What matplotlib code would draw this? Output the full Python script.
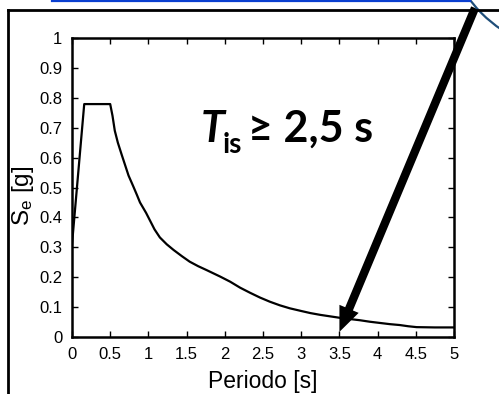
import matplotlib
matplotlib.use("Agg")
import matplotlib.pyplot as plt
from matplotlib.lines import Line2D
from matplotlib.patches import Circle

# spectrum
periodo = [0.0, 0.16, 0.50, 0.53, 0.56, 0.60, 0.65, 0.74, 0.80, 0.85, 0.89, 0.97,
           1.02, 1.08, 1.15, 1.24, 1.33, 1.44, 1.54, 1.65, 1.76, 1.94, 2.07,
           2.20, 2.33, 2.46, 2.59, 2.72, 2.85, 3.00, 3.12, 3.25, 3.38, 3.51,
           3.64, 3.77, 3.90, 4.03, 4.16, 4.29, 4.40, 4.51, 4.75, 5.0]
se = [0.31, 0.779, 0.779, 0.74, 0.69, 0.65, 0.61, 0.54, 0.505, 0.475, 0.45, 0.415,
      0.39, 0.36, 0.333, 0.31, 0.291, 0.27, 0.252, 0.237, 0.224, 0.202, 0.185,
      0.165, 0.148, 0.132, 0.118, 0.106, 0.096, 0.087, 0.080, 0.074, 0.069, 0.064,
      0.060, 0.056, 0.051, 0.047, 0.043, 0.040, 0.036, 0.033, 0.032, 0.032]

xticks = [0, 0.5, 1, 1.5, 2, 2.5, 3, 3.5, 4, 4.5, 5]
xticklabels = ['0', '0.5', '1', '1.5', '2', '2.5', '3', '3.5', '4', '4.5', '5']
yticks = [0, 0.1, 0.2, 0.3, 0.4, 0.5, 0.6, 0.7, 0.8, 0.9, 1]
yticklabels = ['0', '0.1', '0.2', '0.3', '0.4', '0.5', '0.6', '0.7', '0.8', '0.9', '1']

arrow_tip = (3.5, 0.017)

plt.rcParams['font.family'] = ['Liberation Sans', 'DejaVu Sans']
plt.rcParams['mathtext.default'] = 'regular'

W, H = 499, 394
fig = plt.figure(figsize=(W/100, H/100), dpi=100)
ax = fig.add_axes([72/W, 1-337/H, (454-72)/W, (337-38)/H])

ax.plot(periodo, se, color='black', lw=1.6)
ax.set_xlim(0, 5)
ax.set_ylim(0, 1)
ax.set_xticks(xticks)
ax.set_xticklabels(xticklabels)
ax.set_yticks(yticks)
ax.set_yticklabels(yticklabels)
ax.tick_params(direction='in', top=True, right=True, length=4, width=1,
               labelsize=12, pad=7)
for s in ax.spines.values():
    s.set_linewidth(1.8)
ax.set_xlabel('Periodo [s]', fontsize=16.5)
ax.xaxis.set_label_coords(0.5, -(388-337)/299)
ax.xaxis.label.set_va('baseline')
ax.set_ylabel('S$_\\mathregular{e}$ [g]', fontsize=17.5)
ax.yaxis.set_label_coords(-(72-36)/382, (337-196)/299)

# big arrow
ax.annotate('', xy=arrow_tip, xycoords='data',
            xytext=(475, H-8), textcoords='figure pixels',
            arrowprops=dict(arrowstyle='simple,head_length=0.9,head_width=0.75,tail_width=0.3',
                            color='black', lw=0, shrinkA=0, shrinkB=0,
                            mutation_scale=20),
            annotation_clip=False)

# label text
bold = ['Lato', 'DejaVu Sans']
fig.text(201/W, 1-142/H, 'T', fontsize=31, fontweight='bold', fontstyle='italic',
         family=bold, va='baseline', ha='left')
fig.text(223/W, 1-153/H, 'is', fontsize=20, fontweight='bold',
         family=bold, va='baseline', ha='left')
fig.text(248/W, 1-142/H, '\u2265 2,5 s', fontsize=31, fontweight='bold',
         family=bold, va='baseline', ha='left')

# outer frame and decorations
fig.add_artist(Line2D([8/W, 8/W], [0, 1-10/H], color='black', lw=2))
fig.add_artist(Line2D([8/W, 1], [1-10/H, 1-10/H], color='black', lw=2))
fig.add_artist(Line2D([52/W, 470/W], [1-0.8/H, 1-0.8/H], color='#0a3fd0', lw=1.6))
fig.add_artist(Circle((575, H+80), 132, transform=None, fill=False,
                      edgecolor='#1f4e79', lw=1.6))

fig.savefig('out.png', dpi=100)
